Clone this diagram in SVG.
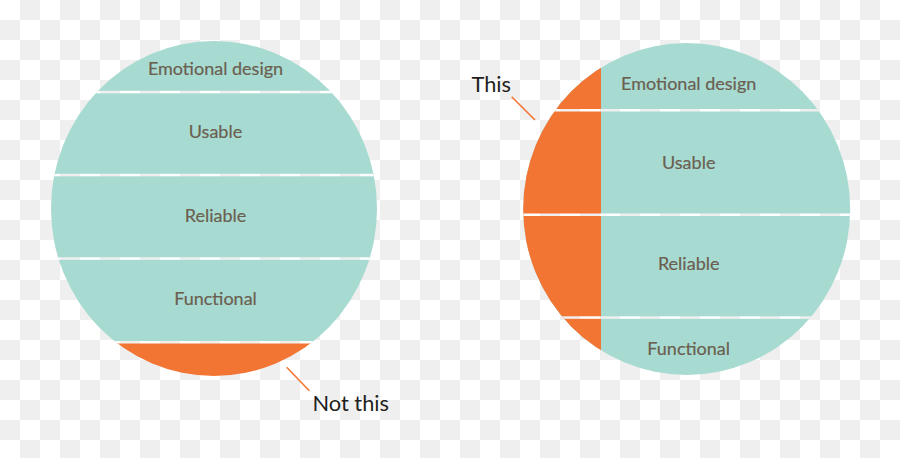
<svg xmlns="http://www.w3.org/2000/svg" width="900" height="458" viewBox="0 0 900 458">
  <defs>
    <pattern id="checker" x="0" y="0" width="40" height="40" patternUnits="userSpaceOnUse">
      <rect width="40" height="40" fill="#ffffff"/>
      <rect x="20" y="0" width="20" height="20" fill="#efefef"/>
      <rect x="0" y="20" width="20" height="20" fill="#efefef"/>
    </pattern>
    <clipPath id="clipL"><ellipse cx="214" cy="208.5" rx="163" ry="167.5"/></clipPath>
    <clipPath id="clipR"><ellipse cx="686.7" cy="209" rx="163.5" ry="166"/></clipPath>
    <style>
      .teal { fill: #a7dbd2; }
      .orange { fill: #f37533; }
      .gap { fill: url(#checker); }
      .lbl { font-family: Lato, "Noto Sans", sans-serif; font-size: 18px; fill: #6b5f50; stroke: #6b5f50; stroke-width: 0.2; text-anchor: middle; }
      .call { font-family: Lato, "Noto Sans", sans-serif; font-size: 21.8px; fill: #231f20; }
      .lead { stroke: #f37533; stroke-width: 1.6; fill: none; }
    </style>
  </defs>
  <rect width="900" height="458" fill="url(#checker)"/>

  <g id="left-circle" clip-path="url(#clipL)">
    <g id="left-emotional"><rect class="teal" x="40" y="30" width="350" height="61.5"/></g>
    <g id="left-usable"><rect class="teal" x="40" y="91" width="350" height="84"/></g>
    <g id="left-reliable"><rect class="teal" x="40" y="174" width="350" height="84"/></g>
    <g id="left-functional"><rect class="teal" x="40" y="257" width="350" height="86"/></g>
    <g id="left-notthis-band"><rect class="orange" x="40" y="343" width="350" height="50"/></g>
    <rect class="gap" x="40" y="90.8" width="350" height="2.5"/>
    <rect class="gap" x="40" y="173.8" width="350" height="2.5"/>
    <rect class="gap" x="40" y="257.3" width="350" height="2.5"/>
    <rect class="gap" x="40" y="341" width="350" height="2.5"/>
  </g>
  <g id="left-labels">
    <text class="lbl" x="215.5" y="75">Emotional design</text>
    <text class="lbl" x="215.5" y="138">Usable</text>
    <text class="lbl" x="215.5" y="221.5">Reliable</text>
    <text class="lbl" x="215.5" y="305">Functional</text>
  </g>

  <g id="right-circle" clip-path="url(#clipR)">
    <g id="right-teal"><rect class="teal" x="510" y="30" width="350" height="360"/></g>
    <g id="right-this-band"><rect class="orange" x="510" y="30" width="91" height="360"/></g>
    <rect class="gap" x="510" y="109" width="350" height="2.5"/>
    <rect class="gap" x="510" y="213.5" width="350" height="2.5"/>
    <rect class="gap" x="510" y="316.3" width="350" height="2.5"/>
  </g>
  <g id="right-labels">
    <text class="lbl" x="688.7" y="89.5">Emotional design</text>
    <text class="lbl" x="688.7" y="169">Usable</text>
    <text class="lbl" x="688.7" y="270">Reliable</text>
    <text class="lbl" x="688.7" y="355">Functional</text>
  </g>

  <g id="connectors">
    <line class="lead" x1="286.7" y1="367.3" x2="309.3" y2="390.7"/>
    <line class="lead" x1="511.7" y1="96.7" x2="535" y2="120"/>
  </g>
  <g id="callout-notthis"><text class="call" x="312.5" y="410.7">Not this</text></g>
  <g id="callout-this"><text class="call" x="471.5" y="91.7">This</text></g>
</svg>
